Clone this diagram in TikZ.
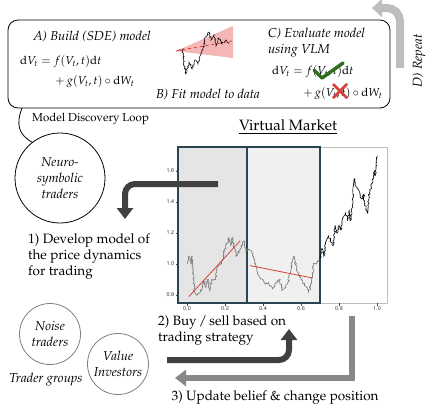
\documentclass[tikz,border=0pt]{standalone}
\usepackage[T1]{fontenc}
\usepackage{mathpazo}
\usepackage[scaled=0.92]{helvet}
\usepackage{tikz}
\usetikzlibrary{arrows.meta,calc,positioning,decorations.pathmorphing}
\definecolor{slate}{RGB}{44,68,82}
\definecolor{fitred}{RGB}{214,64,56}
\definecolor{okgreen}{RGB}{46,110,30}
\definecolor{dark}{RGB}{64,64,64}
\definecolor{midgray}{RGB}{136,136,136}
\definecolor{lightgray}{RGB}{190,190,190}
\definecolor{pinkfill}{RGB}{244,182,182}

\begin{document}
\begin{tikzpicture}[x=1pt,y=-1pt,>=Latex]
\tikzset{
  heading/.style={font=\fontsize{13}{16}\selectfont\itshape,inner sep=0pt},
  eqn/.style={font=\fontsize{11.5}{13}\selectfont,inner sep=0pt,anchor=west},
  bodytext/.style={font=\fontsize{13.5}{15.8}\selectfont,align=left,inner sep=0pt,anchor=north west},
  trader/.style={circle,draw,thick,minimum size=90pt,align=center,
                 font=\fontsize{13}{16}\selectfont\itshape,inner sep=0pt},
  group/.style={circle,draw=gray,thick,minimum size=61pt,align=center,
                font=\fontsize{13}{16}\selectfont\itshape,inner sep=0pt},
  ticklabel/.style={font=\fontsize{6}{7}\selectfont\sffamily,text=dark,inner sep=1pt},
  bigarrow/.style={line width=6pt,-{Triangle[length=11pt,width=16pt]}},
  pricepath/.style={line width=0.6pt,decorate,
                    decoration={random steps,segment length=1.2pt,amplitude=0.9pt}}
}
\useasboundingbox (0,0) rectangle (436,416);

% model discovery loop
\node[draw,thick,rounded corners=10pt,minimum width=382pt,minimum height=88pt,inner sep=0pt]
  (loop) at (199,64) {};
\node[heading] (build) at (92,37) {A) Build (SDE) model};
\node[eqn] (buildf) at (20,62) {$\mathrm{d}V_t = f(V_t,t)\mathrm{d}t$};
\node[eqn] (buildg) at (55,82) {$+\, g(V_t,t)\circ \mathrm{d}W_t$};

% fitted sketch
\fill[pinkfill] (176,51) -- (233,26) -- (233,58) -- cycle;
\pgfmathsetseed{3}
\draw[line width=0.5pt,decorate,decoration={random steps,segment length=1pt,amplitude=0.8pt}]
  (178,51) -- (183,49) -- (184,65) -- (186,74) -- (189,62) -- (192,69) -- (195,60)
  -- (198,64) -- (200,56) -- (203,50) -- (205,38) -- (209,32) -- (211,40) -- (214,35)
  -- (216,46) -- (219,38) -- (222,44) -- (226,40) -- (229,44);
\draw[fitred,thick,dashed] (176,51) -- (232,41);
\node[heading] (fit) at (208,95) {B) Fit model to data};

\node[heading,anchor=north west,align=left]
  (evaluate) at (268,28) {C) Evaluate model\\using VLM};
\node[eqn] (evalf) at (272,72) {$\mathrm{d}V_t = f(V_t,t)\mathrm{d}t$};
\node[eqn] (evalg) at (303,94) {$+\, g(V_t,t)\circ \mathrm{d}W_t$};
\draw[okgreen,line width=3.5pt,line cap=round,line join=round]
  (314,70) -- (322,78) -- (343,63);
\draw[fitred,line width=2.8pt] (333,84) -- (347,98) (347,84) -- (333,98);

% repeat arrow
\coordinate (repeatfrom) at (400,68);
\coordinate (repeatto) at (372,8);
\draw[lightgray,line width=8pt,rounded corners=13pt,-{Triangle[length=10pt,width=18pt]}]
  (repeatfrom) |- (repeatto);
\node[heading,rotate=90] (repeat) at (419,61) {D) Repeat};

% traders
\node[font=\fontsize{11.5}{13}\selectfont,anchor=west,inner sep=0pt] (mdl) at (32,119) {Model Discovery Loop};
\node[trader] (neuro) at (60,178) {Neuro-\\symbolic\\traders};
\draw[thick] (22,108) .. controls (16,124) and (18,134) .. (neuro.128);
\node[bodytext] (develop) at (28,234) {1) Develop model of\\the price dynamics\\for trading};

% virtual market
\node[font=\fontsize{15}{17}\selectfont,inner sep=1pt] (market) at (288,127) {\underline{Virtual Market}};
\draw[lightgray,thick] (178,147) rectangle (387,303);
\fill[black!10] (178,147) rectangle (247,303);
\fill[black!6] (247,147) rectangle (320,303);
\draw[slate,line width=1.3pt] (178,147) rectangle (247,303);
\draw[slate,line width=1.3pt] (247,147) rectangle (320,303);
\foreach \v/\lab in {0.8/0.8,1.0/1.0,1.2/1.2,1.4/1.4,1.6/1.6}{
  \draw[dark,thin] (178,{295-(\v-0.8)*155}) -- ++(-2.5,0)
    node[ticklabel,anchor=east] {\lab};
}
\foreach \t/\lab in {0/0.0,0.2/0.2,0.4/0.4,0.6/0.6,0.8/0.8,1/1.0}{
  \draw[dark,thin] ({187+\t*190},303) -- ++(0,2.5)
    node[ticklabel,anchor=north] {\lab};
}
\begin{scope}[shift={(187,419)},x=190pt,y={(0pt,155pt)}]
  \pgfmathsetseed{11}
  \draw[pricepath,black!55]
    (0,1.0) -- (0.01,1.05) -- (0.02,1.0) -- (0.025,1.05) -- (0.04,0.82) -- (0.05,0.8)
    -- (0.07,0.82) -- (0.09,0.9) -- (0.1,0.85) -- (0.11,0.9) -- (0.12,0.82) -- (0.13,0.9)
    -- (0.15,0.9) -- (0.16,0.98) -- (0.18,1.0) -- (0.2,1.1) -- (0.21,1.13) -- (0.22,1.17)
    -- (0.23,1.12) -- (0.24,1.17) -- (0.25,1.1) -- (0.26,1.05) -- (0.28,1.1) -- (0.3,1.15)
    -- (0.31,1.08) -- (0.32,1.1) -- (0.34,1.08) -- (0.35,1.05) -- (0.36,1.0) -- (0.37,0.95)
    -- (0.38,0.92) -- (0.4,0.9) -- (0.41,0.87) -- (0.43,0.88) -- (0.45,0.84) -- (0.47,0.88)
    -- (0.49,0.9) -- (0.5,0.83) -- (0.52,0.85) -- (0.53,0.88) -- (0.55,1.0) -- (0.56,1.05)
    -- (0.57,1.02) -- (0.58,0.95) -- (0.6,0.9) -- (0.61,0.88) -- (0.63,0.85) -- (0.64,0.82)
    -- (0.655,0.88) -- (0.665,1.0) -- (0.68,1.0) -- (0.7,1.03);
  \draw[pricepath,black]
    (0.7,1.03) -- (0.71,1.1) -- (0.72,1.05) -- (0.73,1.13) -- (0.745,1.18) -- (0.755,1.15)
    -- (0.77,1.12) -- (0.78,1.25) -- (0.79,1.2) -- (0.8,1.25) -- (0.81,1.22) -- (0.82,1.3)
    -- (0.835,1.33) -- (0.845,1.28) -- (0.855,1.35) -- (0.86,1.28) -- (0.87,1.38)
    -- (0.88,1.55) -- (0.89,1.5) -- (0.9,1.48) -- (0.91,1.45) -- (0.92,1.42) -- (0.93,1.45)
    -- (0.94,1.35) -- (0.95,1.33) -- (0.96,1.46) -- (0.97,1.5) -- (0.98,1.55)
    -- (0.985,1.6) -- (0.99,1.57) -- (1.0,1.7);
  \draw[fitred,thick] (0.01,0.79) -- (0.28,1.15);
  \draw[fitred,thick] (0.33,0.99) -- (0.66,0.91);
\end{scope}

% trading arrows
\coordinate (mktout) at (218,184);
\coordinate (devin) at (125,219);
\draw[bigarrow,dark,rounded corners=10pt] (mktout) -| (devin);
\node[bodytext] (buysell) at (158,316) {2) Buy\,/\,sell based on\\trading strategy};
\coordinate (groupout) at (167,360);
\coordinate (mktin) at (289,329);
\draw[bigarrow,dark,rounded corners=10pt] (groupout) -| (mktin);
\coordinate (mktback) at (352,316);
\coordinate (groupin) at (175,378);
\draw[bigarrow,midgray] (mktback) |- (groupin);
\node[font=\fontsize{13.5}{15}\selectfont,inner sep=0pt] (update) at (275,398) {3) Update belief \& change position};

% trader groups
\node[group] (noise) at (50,334) {Noise\\traders};
\node[group] (value) at (118,364) {Value\\Investors};
\node[heading] (groups) at (46,380) {Trader groups};
\end{tikzpicture}
\end{document}
